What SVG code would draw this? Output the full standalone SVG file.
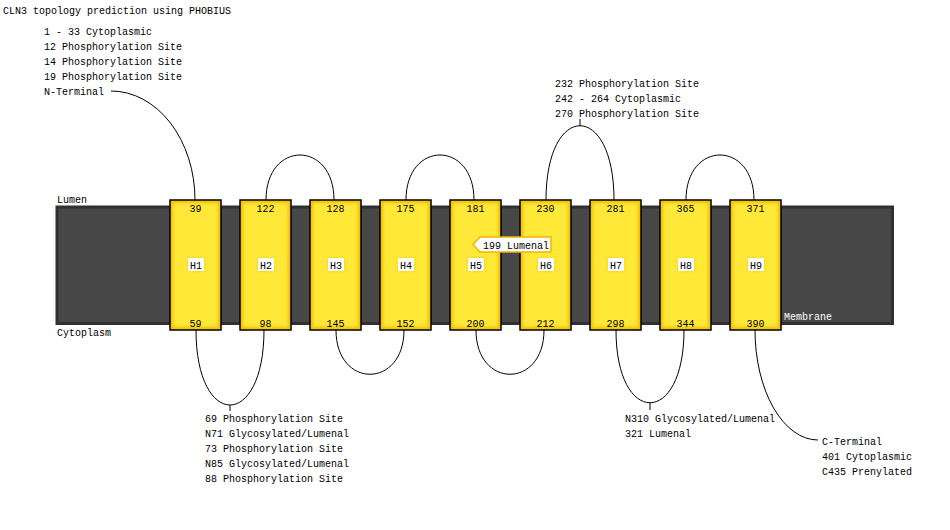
<svg xmlns="http://www.w3.org/2000/svg" width="950" height="530" viewBox="0 0 950 530">
<style>
text{font-family:"Liberation Mono","DejaVu Sans Mono",monospace;font-size:10px;fill:#000}
.c{text-anchor:middle}
.w{fill:#fff}
.conn path{fill:none;stroke:#000;stroke-width:1}
.hx-bg{fill:#f3bf00}
.hx-in{fill:#ffe838;filter:url(#soft)}
.hx-bd{fill:none;stroke:#000;stroke-width:1.5}
.lbl{fill:#fff;filter:url(#glow)}
</style>
<defs>
<filter id="soft" x="-20%" y="-20%" width="140%" height="140%"><feGaussianBlur stdDeviation="1.6"/></filter>
<filter id="glow" x="-50%" y="-50%" width="200%" height="200%"><feDropShadow dx="0" dy="0" stdDeviation="1" flood-color="#f0c000" flood-opacity="0.9"/></filter>
</defs>
<rect width="950" height="530" fill="#fff"/>
<text x="3" y="14">CLN3 topology prediction using PHOBIUS</text>

<g id="membrane">
<rect x="57" y="207" width="835.5" height="116.5" fill="#474747" stroke="#303030" stroke-width="3"/>
<text x="57" y="203">Lumen</text>
<text x="57" y="336">Cytoplasm</text>
<text x="784" y="320" class="w">Membrane</text>
</g>

<g id="connectors" class="conn">
<path d="M111,91 A84,109 0 0 1 195,200"/>
<path d="M266,200 C266,140 334,140 334,200"/>
<path d="M406,200 C406,140 474,140 474,200"/>
<path d="M546,200 C546,101 614,101 614,200 M580,126 V119"/>
<path d="M686,200 C686,140 754,140 754,200"/>
<path d="M196,330 C196,430 264,430 264,330 M230,405 V411"/>
<path d="M336,330 C336,389 404,389 404,330"/>
<path d="M476,330 C476,389 544,389 544,330"/>
<path d="M616,330 C616,427 684,427 684,330 M650,403 V410"/>
<path d="M755,330 A63,110 0 0 0 818,440"/>
</g>

<g id="H1"><rect class="hx-bg" x="170" y="200" width="51" height="130"/><rect class="hx-in" x="173" y="203" width="45" height="124"/><rect class="hx-bd" x="170" y="200" width="51" height="130"/><text class="c" x="195.5" y="211.5">39</text><text class="c" x="195.5" y="326.5">59</text><rect class="lbl" x="188" y="258" width="16" height="13"/><text class="c" x="196" y="269">H1</text></g>
<g id="H2"><rect class="hx-bg" x="240" y="200" width="51" height="130"/><rect class="hx-in" x="243" y="203" width="45" height="124"/><rect class="hx-bd" x="240" y="200" width="51" height="130"/><text class="c" x="265.5" y="211.5">122</text><text class="c" x="265.5" y="326.5">98</text><rect class="lbl" x="258" y="258" width="16" height="13"/><text class="c" x="266" y="269">H2</text></g>
<g id="H3"><rect class="hx-bg" x="310" y="200" width="51" height="130"/><rect class="hx-in" x="313" y="203" width="45" height="124"/><rect class="hx-bd" x="310" y="200" width="51" height="130"/><text class="c" x="335.5" y="211.5">128</text><text class="c" x="335.5" y="326.5">145</text><rect class="lbl" x="328" y="258" width="16" height="13"/><text class="c" x="336" y="269">H3</text></g>
<g id="H4"><rect class="hx-bg" x="380" y="200" width="51" height="130"/><rect class="hx-in" x="383" y="203" width="45" height="124"/><rect class="hx-bd" x="380" y="200" width="51" height="130"/><text class="c" x="405.5" y="211.5">175</text><text class="c" x="405.5" y="326.5">152</text><rect class="lbl" x="398" y="258" width="16" height="13"/><text class="c" x="406" y="269">H4</text></g>
<g id="H5"><rect class="hx-bg" x="450" y="200" width="51" height="130"/><rect class="hx-in" x="453" y="203" width="45" height="124"/><rect class="hx-bd" x="450" y="200" width="51" height="130"/><text class="c" x="475.5" y="211.5">181</text><text class="c" x="475.5" y="326.5">200</text><rect class="lbl" x="468" y="258" width="16" height="13"/><text class="c" x="476" y="269">H5</text></g>
<g id="H6"><rect class="hx-bg" x="520" y="200" width="51" height="130"/><rect class="hx-in" x="523" y="203" width="45" height="124"/><rect class="hx-bd" x="520" y="200" width="51" height="130"/><text class="c" x="545.5" y="211.5">230</text><text class="c" x="545.5" y="326.5">212</text><rect class="lbl" x="538" y="258" width="16" height="13"/><text class="c" x="546" y="269">H6</text></g>
<g id="H7"><rect class="hx-bg" x="590" y="200" width="51" height="130"/><rect class="hx-in" x="593" y="203" width="45" height="124"/><rect class="hx-bd" x="590" y="200" width="51" height="130"/><text class="c" x="615.5" y="211.5">281</text><text class="c" x="615.5" y="326.5">298</text><rect class="lbl" x="608" y="258" width="16" height="13"/><text class="c" x="616" y="269">H7</text></g>
<g id="H8"><rect class="hx-bg" x="660" y="200" width="51" height="130"/><rect class="hx-in" x="663" y="203" width="45" height="124"/><rect class="hx-bd" x="660" y="200" width="51" height="130"/><text class="c" x="685.5" y="211.5">365</text><text class="c" x="685.5" y="326.5">344</text><rect class="lbl" x="678" y="258" width="16" height="13"/><text class="c" x="686" y="269">H8</text></g>
<g id="H9"><rect class="hx-bg" x="730" y="200" width="51" height="130"/><rect class="hx-in" x="733" y="203" width="45" height="124"/><rect class="hx-bd" x="730" y="200" width="51" height="130"/><text class="c" x="755.5" y="211.5">371</text><text class="c" x="755.5" y="326.5">390</text><rect class="lbl" x="748" y="258" width="16" height="13"/><text class="c" x="756" y="269">H9</text></g>

<g id="lumenal199">
<path d="M473,244.5 L480,237 L551,237 L551,252 L480,252 Z" fill="#fff" stroke="#f5b400" stroke-width="1.5"/>
<text x="483" y="248.5">199 Lumenal</text>
</g>

<g id="nterm">
<text x="44" y="35">1 - 33 Cytoplasmic</text>
<text x="44" y="50">12 Phosphorylation Site</text>
<text x="44" y="65">14 Phosphorylation Site</text>
<text x="44" y="80">19 Phosphorylation Site</text>
<text x="44" y="95">N-Terminal</text>
</g>
<g id="loop-top">
<text x="555" y="87">232 Phosphorylation Site</text>
<text x="555" y="102">242 - 264 Cytoplasmic</text>
<text x="555" y="117">270 Phosphorylation Site</text>
</g>
<g id="loop-bottom1">
<text x="205" y="422">69 Phosphorylation Site</text>
<text x="205" y="437">N71 Glycosylated/Lumenal</text>
<text x="205" y="452">73 Phosphorylation Site</text>
<text x="205" y="467">N85 Glycosylated/Lumenal</text>
<text x="205" y="482">88 Phosphorylation Site</text>
</g>
<g id="loop-bottom2">
<text x="625" y="422">N310 Glycosylated/Lumenal</text>
<text x="625" y="437">321 Lumenal</text>
</g>
<g id="cterm">
<text x="822" y="445">C-Terminal</text>
<text x="822" y="460">401 Cytoplasmic</text>
<text x="822" y="475">C435 Prenylated</text>
</g>
</svg>
